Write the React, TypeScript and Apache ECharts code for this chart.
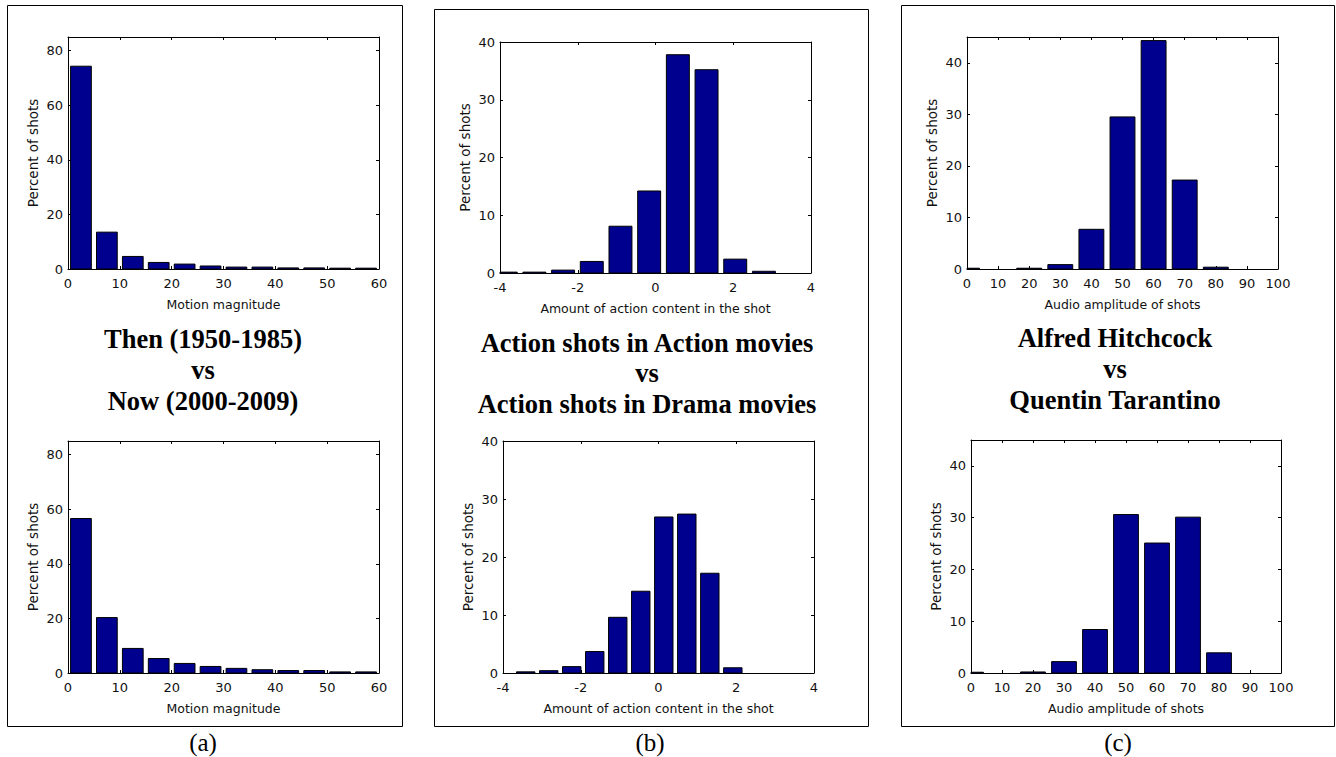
import React, { useEffect, useRef } from "react";
import * as echarts from "echarts";

// ---------- data ----------
const motionBins = [2.5, 7.5, 12.5, 17.5, 22.5, 27.5, 32.5, 37.5, 42.5, 47.5, 52.5, 57.5];
const motionThen = [74.3, 13.5, 4.6, 2.4, 1.8, 1.1, 0.7, 0.7, 0.4, 0.4, 0.3, 0.3];
const motionNow = [56.6, 20.3, 9.0, 5.3, 3.5, 2.4, 1.7, 1.2, 0.9, 0.9, 0.4, 0.4];

const actionBinsA = [-3.853, -3.115, -2.377, -1.639, -0.901, -0.163, 0.575, 1.313, 2.051, 2.789, 3.527];
const actionInAction = [0.15, 0.15, 0.5, 2.0, 8.1, 14.2, 37.8, 35.2, 2.4, 0.3, 0];
const actionBinsD = [-3.416, -2.824, -2.232, -1.64, -1.048, -0.456, 0.136, 0.728, 1.32, 1.912, 2.504, 3.096, 3.688];
const actionInDrama = [0.2, 0.4, 1.1, 3.7, 9.6, 14.1, 26.9, 27.4, 17.2, 0.9, 0, 0, 0];

const audioBins = [0, 10, 20, 30, 40, 50, 60, 70, 80, 90, 100];
const audioHitchcock = [0.15, 0, 0.15, 0.85, 7.7, 29.5, 44.3, 17.25, 0.35, 0, 0];
const audioTarantino = [0.15, 0, 0.2, 2.2, 8.4, 30.6, 25.1, 30.1, 3.9, 0, 0];

const motionTicks = [0, 10, 20, 30, 40, 50, 60];
const actionTicks = [-4, -2, 0, 2, 4];
const audioTicks = [0, 10, 20, 30, 40, 50, 60, 70, 80, 90, 100];
const motionYTicks = [0, 20, 40, 60, 80];
const actionYTicks = [0, 10, 20, 30, 40];
const audioYTicks = [0, 10, 20, 30, 40];

const titleA = ["Then (1950-1985)", "vs", "Now (2000-2009)"];
const titleB = ["Action shots in Action movies", "vs", "Action shots in Drama movies"];
const titleC = ["Alfred Hitchcock", "vs", "Quentin Tarantino"];
const panelLabels = ["(a)", "(b)", "(c)"];

const yName = "Percent of shots";
const xNameA = "Motion magnitude";
const xNameB = "Amount of action content in the shot";
const xNameC = "Audio amplitude of shots";

// ---------- layout ----------
const SANS = "DejaVu Sans";
const SERIF = "Liberation Serif";
const BAR = "#00008F";
const TXT = "#111";

type Plot = {
  grid: { left: number; top: number; width: number; height: number };
  bins: number[];
  values: number[];
  binWidth: number;
  xTicks: number[];
  yTicks: number[];
  yMax: number;
  xName: string;
};

const plots: Plot[] = [
  { grid: { left: 68, top: 37, width: 311, height: 232 }, bins: motionBins, values: motionThen, binWidth: 5, xTicks: motionTicks, yTicks: motionYTicks, yMax: 85, xName: xNameA },
  { grid: { left: 68, top: 441, width: 311, height: 232 }, bins: motionBins, values: motionNow, binWidth: 5, xTicks: motionTicks, yTicks: motionYTicks, yMax: 85, xName: xNameA },
  { grid: { left: 500, top: 42, width: 311, height: 231 }, bins: actionBinsA, values: actionInAction, binWidth: 0.738, xTicks: actionTicks, yTicks: actionYTicks, yMax: 40, xName: xNameB },
  { grid: { left: 503, top: 441, width: 311, height: 232 }, bins: actionBinsD, values: actionInDrama, binWidth: 0.592, xTicks: actionTicks, yTicks: actionYTicks, yMax: 40, xName: xNameB },
  { grid: { left: 967, top: 37, width: 311, height: 232 }, bins: audioBins, values: audioHitchcock, binWidth: 10, xTicks: audioTicks, yTicks: audioYTicks, yMax: 45, xName: xNameC },
  { grid: { left: 971, top: 440, width: 310, height: 233 }, bins: audioBins, values: audioTarantino, binWidth: 10, xTicks: audioTicks, yTicks: audioYTicks, yMax: 45, xName: xNameC },
];

function buildOption() {
  const grids: any[] = [];
  const xAxes: any[] = [];
  const yAxes: any[] = [];
  const series: any[] = [];
  const axisLine = { show: true, onZero: false, lineStyle: { color: "#000", width: 1 } };
  const axisTick = { show: true, inside: true, length: 3, lineStyle: { color: "#000", width: 1 } };
  const tickStyle = { fontFamily: SANS, fontSize: 13, color: TXT };
  const nameStyle = { fontFamily: SANS, fontSize: 12.5, color: TXT };

  plots.forEach((p, i) => {
    grids.push({ ...p.grid, show: false, containLabel: false });
    const xMin = p.xTicks[0];
    const xMax = p.xTicks[p.xTicks.length - 1];
    const xInt = p.xTicks[1] - p.xTicks[0];
    const yInt = p.yTicks[1] - p.yTicks[0];
    const base = {
      type: "value",
      gridIndex: i,
      axisLine,
      axisTick,
      splitLine: { show: false },
    };
    xAxes.push({
      ...base,
      position: "bottom",
      min: xMin,
      max: xMax,
      interval: xInt,
      axisLabel: { ...tickStyle, margin: 8, showMinLabel: true, showMaxLabel: true },
      name: p.xName,
      nameLocation: "middle",
      nameGap: 29,
      nameTextStyle: { ...nameStyle },
    });
    xAxes.push({
      ...base,
      position: "top",
      min: xMin,
      max: xMax,
      interval: xInt,
      axisLabel: { show: false },
    });
    const yTickSet = new Set(p.yTicks);
    yAxes.push({
      ...base,
      position: "left",
      min: 0,
      max: p.yMax,
      interval: yInt,
      axisLabel: {
        ...tickStyle,
        margin: 5,
        formatter: (v: number) => (yTickSet.has(v) ? String(v) : ""),
      },
      name: yName,
      nameLocation: "middle",
      nameGap: 28,
      nameRotate: 90,
      nameTextStyle: { ...nameStyle, fontSize: 13.5 },
    });
    yAxes.push({
      ...base,
      position: "right",
      min: 0,
      max: p.yMax,
      interval: yInt,
      axisLabel: { show: false },
    });
    const w = p.binWidth * 0.8;
    series.push({
      type: "custom",
      xAxisIndex: i * 2,
      yAxisIndex: i * 2,
      data: p.bins.map((b, k) => [b, p.values[k]]),
      encode: { x: 0, y: 1 },
      renderItem: (params: any, api: any) => {
        const x = api.value(0);
        const y = api.value(1);
        if (!(y > 0)) return null;
        const p0 = api.coord([x - w / 2, y]);
        const p1 = api.coord([x + w / 2, 0]);
        const cs = params.coordSys;
        const shape = echarts.graphic.clipRectByRect(
          { x: p0[0], y: p0[1], width: p1[0] - p0[0], height: p1[1] - p0[1] },
          { x: cs.x, y: cs.y, width: cs.width, height: cs.height }
        );
        if (!shape) return null;
        return {
          type: "rect",
          shape,
          style: { fill: BAR, stroke: "#000", lineWidth: 1 },
        };
      },
    });
  });

  const graphic: any[] = [];
  const panels = [
    { x: 7.5, y: 5.5, w: 395, h: 721 },
    { x: 434.5, y: 9.5, w: 434, h: 717 },
    { x: 901.5, y: 5.5, w: 433, h: 721 },
  ];
  panels.forEach((r) => {
    graphic.push({
      type: "rect",
      shape: { x: r.x, y: r.y, width: r.w, height: r.h },
      style: { fill: "none", stroke: "#000", lineWidth: 1 },
      silent: true,
    });
  });
  const titles = [
    { lines: titleA, cx: 203, ys: [339, 370, 401] },
    { lines: titleB, cx: 647, ys: [343, 373, 404] },
    { lines: titleC, cx: 1115, ys: [338, 369, 400] },
  ];
  titles.forEach((t) => {
    t.lines.forEach((line, k) => {
      graphic.push({
        type: "text",
        x: t.cx,
        y: t.ys[k],
        style: {
          text: line,
          fontFamily: SERIF,
          fontWeight: "bold",
          fontSize: 26.5,
          fill: "#000",
          align: "center",
          verticalAlign: "middle",
        },
      });
    });
  });
  const labelX = [203, 650, 1118];
  panelLabels.forEach((l, k) => {
    graphic.push({
      type: "text",
      x: labelX[k],
      y: 742,
      style: {
        text: l,
        fontFamily: SERIF,
        fontSize: 25,
        fill: "#000",
        align: "center",
        verticalAlign: "middle",
      },
    });
  });

  return {
    animation: false,
    backgroundColor: "#fff",
    grid: grids,
    xAxis: xAxes,
    yAxis: yAxes,
    series,
    graphic,
  };
}

export default function App() {
  const ref = useRef<HTMLDivElement>(null);
  useEffect(() => {
    if (!ref.current) return;
    const chart = echarts.init(ref.current, undefined, { renderer: "svg" });
    chart.setOption(buildOption() as any);
    return () => chart.dispose();
  }, []);
  return (
    <div
      ref={ref}
      style={{ position: "absolute", left: 0, top: 0, width: 1336, height: 757 }}
    />
  );
}
